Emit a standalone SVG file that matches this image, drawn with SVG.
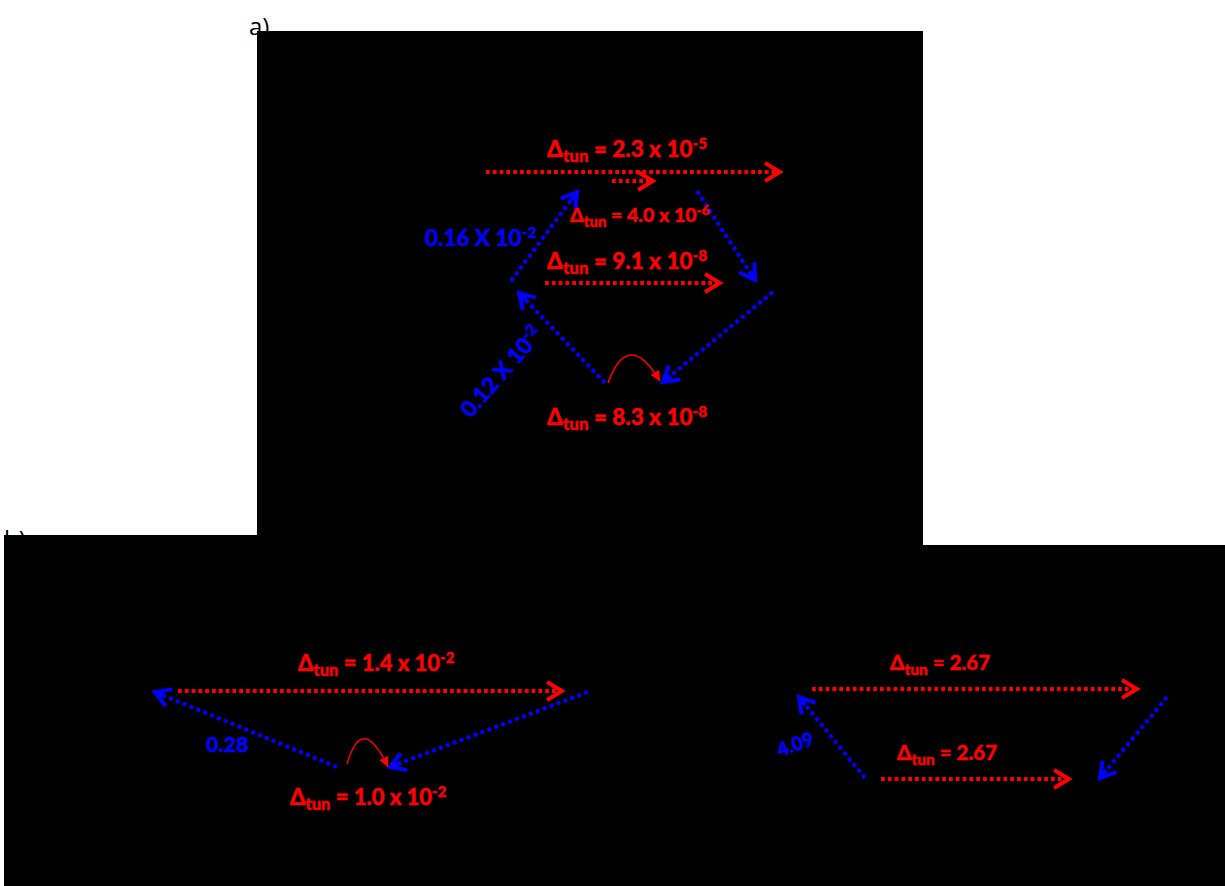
<svg xmlns="http://www.w3.org/2000/svg" width="1225" height="886" viewBox="0 0 1225 886">
<defs>
<style>
.lbl{font-family:Lato,"Open Sans","Liberation Sans",sans-serif;font-weight:900}
.red{fill:#ff0000;stroke:#ff0000;stroke-width:0.4}
.blue{fill:#0000ff;stroke:#0000ff;stroke-width:0.4}
.rd{stroke:#ff0000;stroke-width:3.8;stroke-dasharray:3.8 3;fill:none}
.bd{stroke:#0000ff;stroke-width:4;stroke-dasharray:4 3.4;fill:none}
.cap{font-family:"Open Sans","Liberation Sans",sans-serif;font-size:24px;fill:#000}
</style>
<marker id="ra" markerUnits="userSpaceOnUse" markerWidth="24" markerHeight="24" viewBox="0 0 24 24" refX="20" refY="12" orient="auto">
<path d="M5,3 L20,12 L5,21" fill="none" stroke="#ff0000" stroke-width="3.8"/>
</marker>
<marker id="ba" markerUnits="userSpaceOnUse" markerWidth="26" markerHeight="26" viewBox="0 0 26 26" refX="22" refY="13" orient="auto">
<path d="M7,4 L22,13 L7,22 M12,13 L22,13" fill="none" stroke="#0000ff" stroke-width="4"/>
</marker>
<marker id="ca" markerUnits="userSpaceOnUse" markerWidth="12" markerHeight="12" viewBox="0 0 12 12" refX="10" refY="6" orient="auto">
<path d="M0,1 L10,6 L0,11 Z" fill="#ff0000"/>
</marker>
</defs>

<g id="captions">
<text class="cap" x="249" y="35">a)</text>
<text class="cap" x="4" y="548">b)</text>
</g>

<g id="backgrounds">
<rect x="257" y="31" width="666" height="514" fill="#000"/>
<rect x="4" y="535" width="919" height="351" fill="#000"/>
<rect x="923" y="545" width="302" height="341" fill="#000"/>
</g>

<g id="connectors">
<!-- panel a -->
<line class="rd" x1="486" y1="172" x2="780" y2="172" marker-end="url(#ra)"/>
<line class="rd" x1="612" y1="181" x2="653" y2="181" marker-end="url(#ra)"/>
<line class="rd" x1="545" y1="283" x2="720" y2="283" marker-end="url(#ra)"/>
<line class="bd" x1="511" y1="281" x2="577" y2="192" marker-end="url(#ba)"/>
<line class="bd" x1="697" y1="191" x2="755" y2="280" marker-end="url(#ba)"/>
<line class="bd" x1="773" y1="292" x2="663" y2="382" marker-end="url(#ba)"/>
<line class="bd" x1="605" y1="383" x2="519" y2="293" marker-end="url(#ba)"/>
<path d="M608,383 Q628,328 660,381" fill="none" stroke="#ff0000" stroke-width="1.6" marker-end="url(#ca)"/>
<!-- panel b left -->
<line class="rd" x1="178" y1="691" x2="562" y2="691" marker-end="url(#ra)"/>
<line class="bd" x1="588" y1="692" x2="390" y2="767" marker-end="url(#ba)"/>
<line class="bd" x1="337" y1="767" x2="155" y2="692" marker-end="url(#ba)"/>
<path d="M347,764 Q362,712 388,767" fill="none" stroke="#ff0000" stroke-width="1.4" marker-end="url(#ca)"/>
<!-- panel b right -->
<line class="rd" x1="812" y1="689" x2="1137" y2="689" marker-end="url(#ra)"/>
<line class="rd" x1="881" y1="779" x2="1069" y2="779" marker-end="url(#ra)"/>
<line class="bd" x1="1167" y1="697" x2="1100" y2="778" marker-end="url(#ba)"/>
<line class="bd" x1="865" y1="778" x2="799" y2="697" marker-end="url(#ba)"/>
</g>

<g id="labels-a">
<text class="lbl red" x="547" y="157" font-size="22.5">Δ<tspan font-size="17" dy="5">tun</tspan><tspan dy="-5"> = 2.3 x 10</tspan><tspan font-size="15.5" dy="-8">-5</tspan></text>
<text class="lbl red" x="570" y="222" font-size="19.5">Δ<tspan font-size="15" dy="5">tun</tspan><tspan dy="-5"> = 4.0 x 10</tspan><tspan font-size="14" dy="-7">-6</tspan></text>
<text class="lbl red" x="547" y="269" font-size="22.5">Δ<tspan font-size="17" dy="5">tun</tspan><tspan dy="-5"> = 9.1 x 10</tspan><tspan font-size="15.5" dy="-8">-8</tspan></text>
<text class="lbl red" x="547" y="425" font-size="22.5">Δ<tspan font-size="17" dy="5">tun</tspan><tspan dy="-5"> = 8.3 x 10</tspan><tspan font-size="15.5" dy="-8">-8</tspan></text>
<text class="lbl blue" x="425" y="246" font-size="22.5">0.16 X 10<tspan font-size="15.5" dy="-8">-2</tspan></text>
<text class="lbl blue" x="0" y="0" font-size="22.5" transform="translate(471,419) rotate(-49)">0.12 X 10<tspan font-size="15.5" dy="-8">-2</tspan></text>
</g>

<g id="labels-b">
<text class="lbl red" x="298" y="671" font-size="22">Δ<tspan font-size="16.5" dy="5">tun</tspan><tspan dy="-5"> = 1.4 x 10</tspan><tspan font-size="15" dy="-8">-2</tspan></text>
<text class="lbl blue" x="206" y="752" font-size="21.5">0.28</text>
<text class="lbl red" x="290" y="805" font-size="22">Δ<tspan font-size="16.5" dy="5">tun</tspan><tspan dy="-5"> = 1.0 x 10</tspan><tspan font-size="15" dy="-8">-2</tspan></text>
<text class="lbl red" x="890" y="670" font-size="20.5">Δ<tspan font-size="15.5" dy="5">tun</tspan><tspan dy="-5"> = 2.67</tspan></text>
<text class="lbl red" x="897" y="760" font-size="20.5">Δ<tspan font-size="15.5" dy="5">tun</tspan><tspan dy="-5"> = 2.67</tspan></text>
<text class="lbl blue" x="0" y="0" font-size="19" transform="translate(780,757) rotate(-20)">4.09</text>
</g>
</svg>
